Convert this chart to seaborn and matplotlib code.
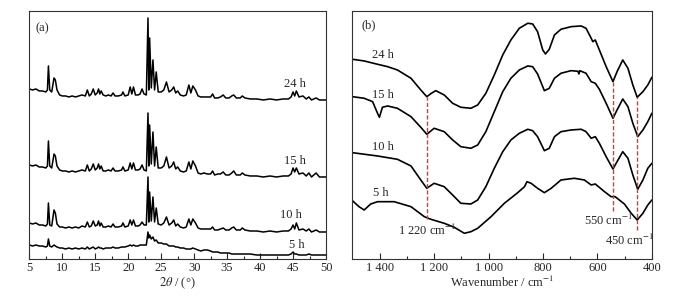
import numpy as np
import pandas as pd
import matplotlib
matplotlib.use('Agg')
import matplotlib.pyplot as plt
from matplotlib.ticker import MultipleLocator, FixedLocator
import seaborn as sns

# XRD: 2theta grid (shared by all curves) and intensity (a.u.) per reaction time
two_theta = [
    5.0, 5.5, 6.0, 6.5, 7.0, 7.5, 7.75, 7.9, 8.1, 8.4,
    8.75, 8.95, 9.2, 9.6, 10.0, 10.5, 11.0, 11.5, 12.0, 12.5,
    13.0, 13.5, 13.8, 14.1, 14.4, 14.7, 15.0, 15.3, 15.5, 15.7,
    15.9, 16.2, 16.6, 17.0, 17.4, 17.7, 18.0, 18.5, 19.0, 19.2,
    19.5, 20.0, 20.3, 20.55, 20.8, 21.1, 21.5, 21.8, 22.1, 22.4,
    22.75, 23.0, 23.12, 23.25, 23.5, 23.75, 24.0, 24.25, 24.55, 25.0,
    25.4, 25.8, 26.2, 26.6, 26.9, 27.2, 27.5, 27.9, 28.4, 28.8,
    29.2, 29.5, 29.8, 30.2, 30.6, 31.0, 31.5, 32.0, 32.5, 32.8,
    33.1, 33.6, 34.0, 34.4, 34.8, 35.3, 35.7, 36.0, 36.4, 37.0,
    37.3, 37.7, 38.5, 39.5, 40.5, 41.5, 42.5, 43.5, 44.3, 44.7,
    45.0, 45.25, 45.5, 45.9, 46.5, 47.0, 47.4, 47.8, 48.5, 49.0,
    49.5, 50.0]

xrd_24h = [
    170, 169, 170, 168, 168, 167, 169, 193, 169, 167,
    181, 179, 169, 164, 163, 163, 162, 163, 162, 163,
    164, 163, 169, 163, 165, 170, 164, 166, 170, 165,
    168, 164, 163, 164, 163, 166, 163, 163, 164, 167,
    163, 164, 172, 165, 172, 164, 164, 165, 170, 165,
    164, 241, 169, 221, 171, 199, 169, 187, 167, 167,
    169, 177, 167, 169, 172, 166, 168, 164, 163, 164,
    174, 166, 173, 169, 163, 162, 162, 162, 162, 165,
    161, 161, 162, 164, 161, 161, 163, 164, 161, 161,
    163, 161, 160, 160, 159, 160, 159, 160, 160, 162,
    167, 163, 168, 162, 163, 160, 162, 159, 161, 159,
    159, 159]

xrd_15h = [
    94, 93, 94, 92, 92, 91, 93, 118, 93, 91,
    105, 103, 93, 89, 88, 88, 87, 88, 87, 88,
    89, 88, 94, 88, 90, 95, 89, 91, 95, 90,
    93, 88, 88, 89, 88, 91, 88, 88, 89, 92,
    88, 89, 96, 90, 96, 89, 89, 90, 94, 89,
    88, 146, 93, 134, 95, 127, 93, 112, 91, 91,
    93, 102, 91, 93, 97, 90, 92, 88, 87, 88,
    97, 90, 98, 93, 86, 85, 86, 85, 85, 88,
    84, 85, 85, 87, 84, 84, 86, 88, 84, 84,
    86, 84, 83, 83, 82, 83, 82, 83, 83, 85,
    91, 87, 91, 85, 86, 83, 86, 82, 86, 82,
    82, 82]

xrd_10h = [
    36, 35, 36, 34, 34, 33, 35, 56, 34, 33,
    49, 46, 35, 32, 32, 31, 32, 31, 32, 31,
    33, 32, 37, 32, 33, 38, 33, 34, 38, 33,
    36, 32, 32, 33, 32, 35, 32, 32, 33, 36,
    32, 33, 39, 34, 39, 33, 33, 34, 37, 34,
    34, 82, 37, 67, 38, 62, 37, 51, 35, 34,
    36, 42, 34, 36, 39, 33, 35, 32, 31, 32,
    40, 34, 40, 36, 31, 30, 30, 30, 30, 32,
    29, 29, 30, 31, 29, 29, 31, 32, 29, 29,
    31, 29, 28, 28, 27, 28, 27, 28, 28, 30,
    34, 30, 36, 29, 30, 28, 30, 27, 29, 27,
    27, 27]

xrd_5h = [
    14, 13, 14, 13, 13, 12, 13, 20, 13, 12,
    14, 13, 12, 11, 11, 10, 11, 10, 11, 10,
    11, 10, 12, 10, 11, 12, 10, 11, 12, 11,
    11, 10, 11, 11, 11, 12, 11, 11, 12, 12,
    12, 13, 14, 13, 14, 13, 13, 14, 14, 14,
    14, 27, 21, 24, 20, 22, 18, 19, 16, 16,
    15, 15, 13, 13, 13, 12, 12, 11, 11, 10,
    10, 10, 11, 10, 9, 8, 9, 9, 8, 7,
    7, 7, 6, 6, 6, 6, 5, 5, 5, 5,
    5, 5, 5, 4, 4, 4, 4, 4, 4, 5,
    7, 5, 5, 4, 4, 4, 5, 4, 4, 4,
    4, 4]

xrd_labels = ['24 h', '15 h', '10 h', '5 h']
xrd_label_x = [45.3, 45.3, 44.7, 45.6]
xrd_label_y = [175, 98, 44, 14]

# FTIR: wavenumber (cm-1) and transmittance (a.u.) per reaction time
ir_wn_24h = [1500, 1457, 1408, 1371, 1335, 1285, 1249, 1227, 1210, 1194,
             1163, 1132, 1102, 1065, 1040, 1010, 979, 948, 918, 887,
             856, 838, 820, 801, 791, 777, 758, 734, 697, 660,
             642, 623, 617, 608, 593, 568, 543, 528, 507, 488,
             470, 454, 433, 415, 400]
ir_24h = [199.7, 198, 194.7, 192.3, 189, 180.7, 169, 162.3, 165.7, 168.3,
          164, 155.7, 151.7, 150.7, 154, 165.7, 184, 204, 219, 230.7,
          235.7, 235, 227.3, 209, 205, 209.7, 224, 229.7, 232.3, 233,
          230.7, 220.7, 217.3, 219, 209, 192.3, 177.3, 187.3, 199, 190.7,
          174, 161.7, 167.3, 174, 181.7]

ir_wn_15h = [1500, 1457, 1426, 1408, 1401, 1390, 1371, 1335, 1285, 1249,
             1227, 1200, 1163, 1132, 1102, 1065, 1040, 1010, 979, 948,
             918, 887, 856, 838, 820, 795, 777, 758, 734, 697,
             672, 668, 665, 642, 623, 608, 593, 568, 543, 528,
             507, 488, 470, 452, 433, 415, 400]
ir_15h = [162.3, 160.7, 157.3, 145.7, 141.7, 151.7, 153, 150.7, 142.3, 131.7,
          124.7, 130.7, 127.3, 119, 112.3, 110.7, 114, 127.3, 147.3, 167.3,
          180.7, 189, 193, 192.3, 185, 168.3, 170.7, 180.7, 185.7, 188.3,
          187.7, 185, 188.3, 185.7, 177.3, 175.7, 169.7, 155.7, 140.7, 149,
          160, 152.3, 135.7, 122.3, 129, 137.3, 145.7]

ir_wn_10h = [1500, 1408, 1335, 1285, 1249, 1227, 1200, 1163, 1132, 1102,
             1065, 1040, 1010, 979, 948, 918, 887, 856, 838, 820,
             795, 777, 758, 734, 697, 660, 642, 623, 608, 593,
             568, 543, 528, 507, 488, 470, 452, 433, 415, 400]
ir_10h = [106.3, 103, 99.7, 93, 79, 70.7, 75.7, 72.3, 64, 55.7,
          55, 59, 72.3, 90.7, 107.3, 119, 125.7, 129.7, 128.3, 122.3,
          108.3, 110.7, 122.3, 127.3, 129, 129.7, 127.3, 120.7, 122.3, 115.7,
          102.3, 90, 97.3, 107.3, 100.7, 84, 69.7, 79, 90.7, 95.7]

ir_wn_5h = [1500, 1476, 1457, 1433, 1408, 1347, 1285, 1236, 1212, 1163,
            1126, 1089, 1065, 1040, 991, 942, 893, 868, 859, 844,
            820, 795, 770, 734, 685, 648, 623, 608, 574, 550,
            535, 501, 476, 454, 433, 415, 400]
ir_5h = [58.3, 52.3, 49, 55, 57.3, 57.3, 52.3, 42.3, 39.7, 35.7,
         31.7, 25.7, 27.3, 30.7, 42.3, 55.7, 66.3, 72.3, 77.3, 75.7,
         70.7, 66.3, 70.7, 79, 80.7, 79, 74, 75, 67.3, 62.3,
         62.3, 55, 45.7, 39, 45.7, 54, 59]

ir_labels = ['24 h', '15 h', '10 h', '5 h']
ir_label_x = [1388, 1388, 1388, 1397]
ir_label_y = [204, 164, 112, 66]

# marked bands (dashed lines) and their labels
band_wn = [1226, 543, 453]
band_top = [162, 177, 162]
band_bottom = [40, 48, 29]
band_text = ['1 220 cm$^{-1}$', '550 cm$^{-1}$', '450 cm$^{-1}$']
band_text_x = [1227, 560, 481]
band_text_y = [29, 39, 19]

sns.set_style('ticks')
plt.rcParams['font.family'] = ['Liberation Serif', 'DejaVu Serif']
plt.rcParams['mathtext.fontset'] = 'stix'

FS = 9

fig = plt.figure(figsize=(6.91, 2.96), dpi=100)
ax1 = fig.add_axes([0.0424, 0.125, 0.4294, 0.838])
ax2 = fig.add_axes([0.5101, 0.125, 0.4333, 0.838])

# (a) XRD
for ys in [xrd_24h, xrd_15h, xrd_10h, xrd_5h]:
    df = pd.DataFrame({'two_theta': two_theta, 'intensity': ys})
    sns.lineplot(data=df, x='two_theta', y='intensity', ax=ax1,
                 color='black', linewidth=1.1)
for lab, lx, ly in zip(xrd_labels, xrd_label_x, xrd_label_y):
    ax1.text(lx, ly, lab, ha='center', va='center', fontsize=FS)
ax1.text(6.0, 231, '(a)', ha='left', va='center', fontsize=FS)
ax1.set_xlim(5, 50)
ax1.set_ylim(0, 248)
ax1.xaxis.set_major_locator(MultipleLocator(5))
ax1.xaxis.set_minor_locator(MultipleLocator(2.5))
ax1.set_xlabel(r'$2\theta$ / (°)', fontsize=FS, labelpad=1)
ax1.set_ylabel('')

# (b) FTIR
for wn, ys in [(ir_wn_24h, ir_24h), (ir_wn_15h, ir_15h),
               (ir_wn_10h, ir_10h), (ir_wn_5h, ir_5h)]:
    df = pd.DataFrame({'wavenumber': wn, 'transmittance': ys})
    sns.lineplot(data=df, x='wavenumber', y='transmittance', ax=ax2,
                 color='black', linewidth=1.2)
ax2.vlines(band_wn, band_bottom, band_top, colors='#e8352b',
           linestyles=(0, (3, 1.5)), linewidth=1.0)
for t, tx, ty in zip(band_text, band_text_x, band_text_y):
    ax2.text(tx, ty, t, ha='center', va='center', fontsize=FS)
for lab, lx, ly in zip(ir_labels, ir_label_x, ir_label_y):
    ax2.text(lx, ly, lab, ha='center', va='center', fontsize=FS)
ax2.text(1466, 234, '(b)', ha='left', va='center', fontsize=FS)
ax2.set_xlim(1500, 400)
ax2.set_ylim(0, 248)
ax2.xaxis.set_major_locator(FixedLocator([1400, 1200, 1000, 800, 600, 400]))
ax2.set_xticklabels(['1 400', '1 200', '1 000', '800', '600', '400'])
ax2.xaxis.set_minor_locator(FixedLocator([1300, 1100, 900, 700, 500]))
ax2.set_xlabel('Wavenumber / cm$^{-1}$', fontsize=FS, labelpad=1)
ax2.set_ylabel('')

for ax in [ax1, ax2]:
    ax.tick_params(axis='x', which='major', direction='in', length=4,
                   width=0.8, labelsize=FS, pad=2, top=False)
    ax.tick_params(axis='x', which='minor', direction='in', length=2.5,
                   width=0.8, top=False)
    ax.tick_params(axis='y', left=False, labelleft=False)
    for s in ax.spines.values():
        s.set_linewidth(0.8)
        s.set_color('#333333')

fig.savefig('out.png', dpi=100)
